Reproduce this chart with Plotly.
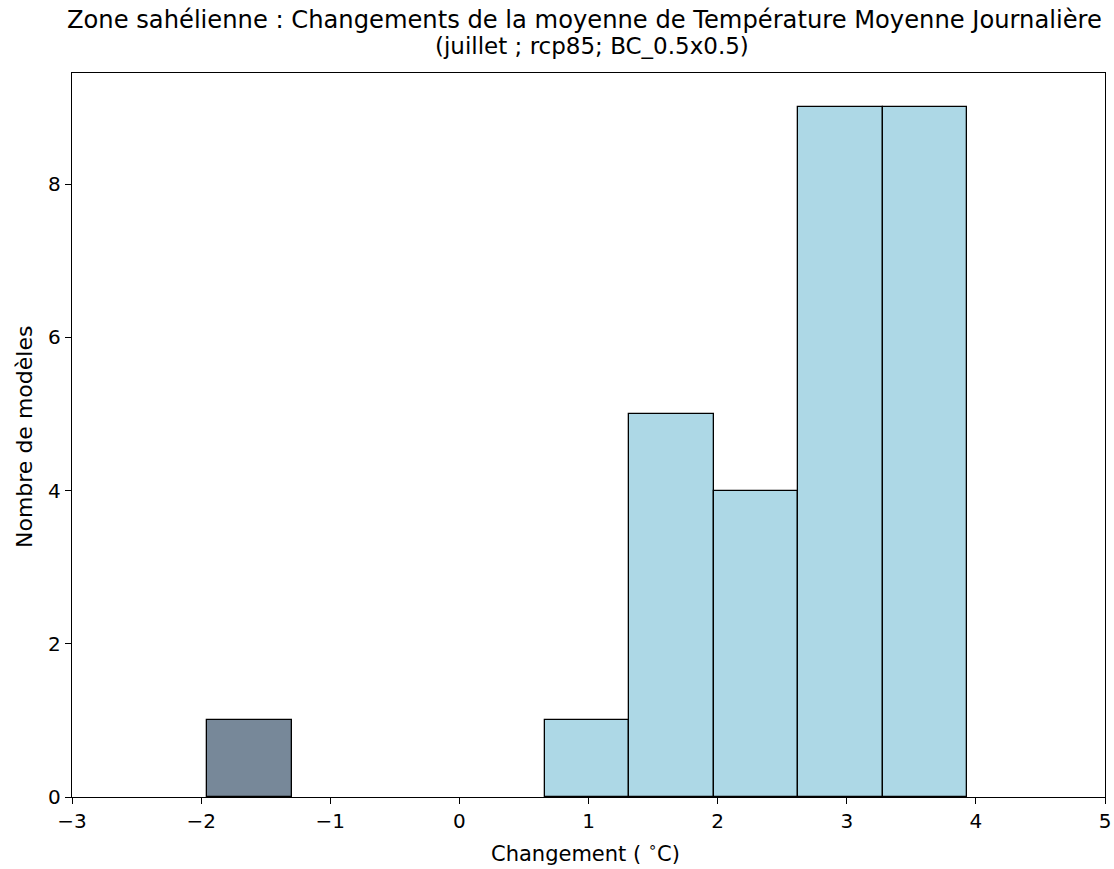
import plotly.graph_objects as go

bin_edges = [-1.953, -1.299, -0.645, 0.009, 0.663, 1.317, 1.971, 2.625, 3.279, 3.933]
counts = [1, 0, 0, 0, 1, 5, 4, 9, 9]
bar_colors = ["#778899", "#ADD8E6", "#ADD8E6", "#ADD8E6", "#ADD8E6",
              "#ADD8E6", "#ADD8E6", "#ADD8E6", "#ADD8E6"]
x_ticks = [-3, -2, -1, 0, 1, 2, 3, 4, 5]
x_tick_labels = ["\u22123", "\u22122", "\u22121", "0", "1", "2", "3", "4", "5"]
y_ticks = [0, 2, 4, 6, 8]
title_line1 = "Zone sahélienne : Changements de la moyenne de Température Moyenne Journalière"
title_line2 = "(juillet ; rcp85; BC_0.5x0.5)"
x_title = "Changement ( <sup>\u2218</sup>C)"
y_title = "Nombre de modèles"

centers = [(a + b) / 2 for a, b in zip(bin_edges[:-1], bin_edges[1:])]
widths = [b - a for a, b in zip(bin_edges[:-1], bin_edges[1:])]

xs, ys, ws, cs = [], [], [], []
for c, w, n, col in zip(centers, widths, counts, bar_colors):
    if n > 0:
        xs.append(c); ys.append(n); ws.append(w); cs.append(col)

fig = go.Figure(go.Bar(
    x=xs, y=ys, width=ws,
    marker=dict(color=cs, line=dict(color="black", width=1.3)),
    hoverinfo="x+y",
))

font = "DejaVu Sans"
W, H = 1114, 869
# plot frame in screen pixels
SX0, SX1, SY0, SY1 = 72, 1105, 73, 797
L, R, T, B = SX0, W - SX1, SY0, H - SY1
pw, ph = SX1 - SX0, SY1 - SY0

def py(sy):
    return (SY1 - sy) / ph

def pxx(sx):
    return (sx - SX0) / pw

annotations = [
    dict(text=title_line1, x=pxx(584), y=py(20), xref="paper", yref="paper",
         xanchor="center", yanchor="middle", showarrow=False,
         font=dict(family=font, size=24.2, color="black")),
    dict(text=title_line2, x=pxx(592), y=py(46), xref="paper", yref="paper",
         xanchor="center", yanchor="middle", showarrow=False,
         font=dict(family=font, size=23, color="black")),
    dict(text=x_title, x=pxx(585), y=py(852), xref="paper", yref="paper",
         xanchor="center", yanchor="middle", showarrow=False,
         font=dict(family=font, size=21, color="black")),
    dict(text=y_title, x=pxx(25), y=py(437), xref="paper", yref="paper",
         xanchor="center", yanchor="middle", showarrow=False, textangle=-90,
         font=dict(family=font, size=22, color="black")),
]

fig.update_layout(
    width=W, height=H,
    margin=dict(l=L, r=R, t=T, b=B, autoexpand=False),
    paper_bgcolor="white", plot_bgcolor="white",
    showlegend=False,
    font=dict(family=font, size=20, color="black"),
    annotations=annotations,
    xaxis=dict(
        range=[-3, 5], tickvals=x_ticks, ticktext=x_tick_labels,
        ticks="outside", ticklen=6, tickwidth=1.3, tickcolor="black",
        showline=True, linecolor="black", linewidth=1.3, mirror=True,
        showgrid=False, zeroline=False, automargin=False,
        tickfont=dict(size=20),
    ),
    yaxis=dict(
        range=[0, 9.45], tickvals=y_ticks,
        ticks="outside", ticklen=6, tickwidth=1.3, tickcolor="black",
        showline=True, linecolor="black", linewidth=1.3, mirror=True,
        showgrid=False, zeroline=False, automargin=False,
        tickfont=dict(size=20),
    ),
    bargap=0,
)

fig.write_html("out.html", config={"displayModeBar": False},
               post_script="document.body.style.margin='0';")
